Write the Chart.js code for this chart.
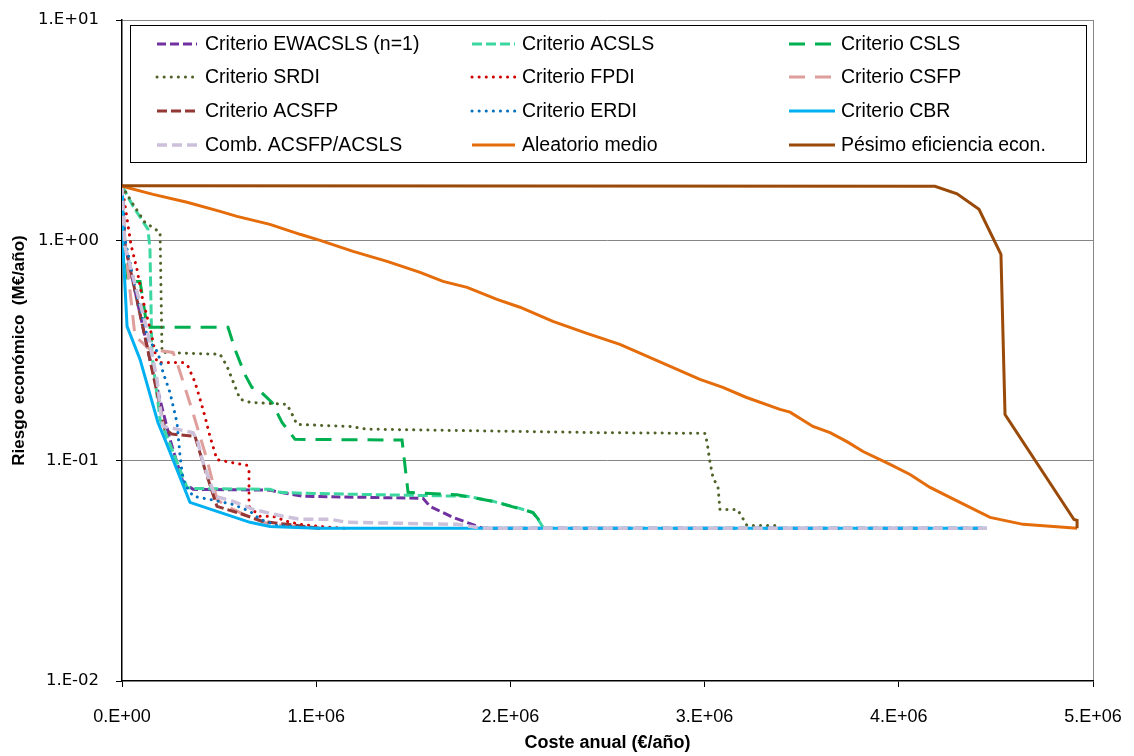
<!DOCTYPE html>
<html>
<head>
<meta charset="utf-8">
<script src="https://cdn.jsdelivr.net/npm/chart.js@4.4.1/dist/chart.umd.min.js"></script>
<style>
  html, body { margin: 0; padding: 0; background: #fff; }
  #wrap { width: 1134px; height: 756px; }
</style>
</head>
<body>
<div id="wrap"><canvas id="chart" width="1134" height="756"></canvas></div>
<script>
// Ejes
const xTicks = [0, 1e6, 2e6, 3e6, 4e6, 5e6];
const xTickLabels = ['0.E+00', '1.E+06', '2.E+06', '3.E+06', '4.E+06', '5.E+06'];
const yTicks = [0.01, 0.1, 1, 10];
const yTickLabels = ['1.E-02', '1.E-01', '1.E+00', '1.E+01'];

// Coste anual (€/año) y riesgo económico (M€/año) de cada serie
const ewacslsX = [0, 0.015e6, 0.144e6, 0.247e6, 0.314e6, 0.366e6, 0.762e6, 0.814e6, 0.932e6, 1.550e6, 1.586e6, 1.704e6, 1.859e6, 4.45e6];
const ewacslsY = [1.77, 0.96, 0.288, 0.125, 0.0797, 0.0741, 0.0735, 0.0718, 0.0689, 0.0675, 0.0620, 0.0553, 0.0493, 0.0493];

const acslsX = [0, 0.057e6, 0.134e6, 0.144e6, 0.154e6, 0.196e6, 0.335e6, 0.366e6, 0.762e6, 0.814e6, 0.932e6, 1.777e6, 1.910e6, 2.013e6, 2.116e6, 2.142e6, 2.168e6];
const acslsY = [1.77, 1.427, 1.122, 0.91, 0.304, 0.154, 0.0756, 0.0748, 0.0741, 0.0718, 0.0711, 0.0689, 0.0654, 0.0620, 0.0582, 0.0542, 0.0498];

const cslsX = [0, 0.010e6, 0.031e6, 0.093e6, 0.129e6, 0.546e6, 0.582e6, 0.633e6, 0.669e6, 0.700e6, 0.772e6, 0.824e6, 0.891e6, 1.442e6, 1.473e6, 1.725e6, 1.910e6, 2.116e6, 2.178e6];
const cslsY = [1.77, 0.959, 0.651, 0.651, 0.403, 0.403, 0.320, 0.246, 0.215, 0.211, 0.184, 0.149, 0.125, 0.124, 0.0718, 0.0700, 0.0654, 0.0582, 0.0498];

const srdiX = [0, 0.057e6, 0.118e6, 0.196e6, 0.206e6, 0.505e6, 0.541e6, 0.582e6, 0.608e6, 0.659e6, 0.850e6, 0.881e6, 0.901e6, 1.174e6, 1.262e6, 2.461e6, 3.002e6, 3.012e6, 3.028e6, 3.043e6, 3.069e6, 3.079e6, 3.167e6, 3.182e6, 3.218e6, 3.373e6];
const srdiY = [1.77, 1.457, 1.207, 1.087, 0.310, 0.304, 0.268, 0.217, 0.190, 0.184, 0.180, 0.159, 0.146, 0.143, 0.139, 0.134, 0.133, 0.122, 0.0983, 0.0840, 0.0756, 0.0601, 0.0601, 0.0576, 0.0508, 0.0508];

const fpdiX = [0, 0.046e6, 0.077e6, 0.103e6, 0.154e6, 0.180e6, 0.314e6, 0.340e6, 0.376e6, 0.402e6, 0.427e6, 0.453e6, 0.489e6, 0.644e6, 0.654e6, 0.654e6, 0.711e6, 0.778e6, 0.850e6, 0.917e6, 1.020e6, 1.148e6];
const fpdiY = [1.77, 0.959, 0.739, 0.557, 0.367, 0.279, 0.279, 0.268, 0.227, 0.190, 0.159, 0.129, 0.101, 0.0952, 0.0913, 0.0620, 0.0559, 0.0559, 0.0530, 0.0514, 0.0503, 0.0493];

const csfpX = [0, 0.015e6, 0.067e6, 0.144e6, 0.263e6, 0.283e6, 0.360e6, 0.438e6, 0.489e6, 0.541e6, 0.659e6, 0.762e6, 1.020e6];
const csfpY = [1.77, 0.959, 0.367, 0.320, 0.310, 0.279, 0.171, 0.101, 0.0667, 0.0620, 0.0553, 0.0514, 0.0493];

const acsfpX = [0, 0.015e6, 0.221e6, 0.257e6, 0.376e6, 0.427e6, 0.489e6, 0.592e6, 0.726e6, 0.850e6, 1.020e6];
const acsfpY = [1.77, 0.959, 0.139, 0.132, 0.129, 0.0913, 0.0620, 0.0582, 0.0530, 0.0514, 0.0493];

const erdiX = [0, 0.015e6, 0.041e6, 0.077e6, 0.134e6, 0.185e6, 0.211e6, 0.247e6, 0.283e6, 0.299e6, 0.314e6, 0.335e6, 0.366e6, 0.453e6, 0.572e6, 0.659e6, 0.711e6, 0.798e6, 0.881e6, 1.020e6];
const erdiY = [1.77, 1.01, 0.795, 0.557, 0.356, 0.310, 0.252, 0.204, 0.149, 0.1046, 0.0823, 0.0756, 0.0689, 0.0667, 0.0633, 0.0589, 0.0542, 0.0508, 0.0503, 0.0493];

const cbrX = [0, 0.003e6, 0.026e6, 0.093e6, 0.185e6, 0.221e6, 0.350e6, 0.489e6, 0.659e6, 0.762e6, 1.004e6, 4.454e6];
const cbrY = [1.77, 1.01, 0.407, 0.288, 0.149, 0.125, 0.0647, 0.0589, 0.0525, 0.0503, 0.0493, 0.0493];

const combX = [0, 0.015e6, 0.129e6, 0.180e6, 0.196e6, 0.211e6, 0.283e6, 0.366e6, 0.391e6, 0.417e6, 0.443e6, 0.479e6, 0.572e6, 0.675e6, 0.829e6, 0.917e6, 1.071e6, 1.159e6, 1.725e6, 1.859e6, 4.454e6];
const combY = [1.77, 0.939, 0.394, 0.234, 0.176, 0.143, 0.139, 0.134, 0.121, 0.0983, 0.0849, 0.0689, 0.0654, 0.0601, 0.0559, 0.0542, 0.0542, 0.0525, 0.0514, 0.0493, 0.0493];

const aleatorioX = [0, 0.160e6, 0.335e6, 0.505e6, 0.592e6, 0.762e6, 0.917e6, 1.020e6, 1.190e6, 1.365e6, 1.535e6, 1.653e6, 1.777e6, 1.931e6, 2.049e6, 2.219e6, 2.394e6, 2.564e6, 2.976e6, 3.094e6, 3.213e6, 3.388e6, 3.440e6, 3.558e6, 3.646e6, 3.733e6, 3.816e6, 3.955e6, 4.058e6, 4.161e6, 4.315e6, 4.470e6, 4.640e6, 4.918e6];
const aleatorioY = [1.76, 1.617, 1.488, 1.354, 1.285, 1.182, 1.065, 1.000, 0.891, 0.803, 0.716, 0.651, 0.612, 0.540, 0.497, 0.429, 0.378, 0.337, 0.234, 0.215, 0.194, 0.171, 0.166, 0.143, 0.134, 0.122, 0.110, 0.0962, 0.0866, 0.0756, 0.0647, 0.0553, 0.0514, 0.0493];

const pesimoX = [0, 4.186e6, 4.300e6, 4.413e6, 4.526e6, 4.547e6, 4.902e6, 4.918e6, 4.918e6];
const pesimoY = [1.77, 1.76, 1.626, 1.382, 0.864, 0.162, 0.0541, 0.0536, 0.0493];

function pts(xs, ys) {
    return xs.map((x, i) => ({ x: x, y: ys[i] }));
}

const DOT = [0.1, 7];
const series = [
    { label: 'Criterio EWACSLS (n=1)', data: pts(ewacslsX, ewacslsY), borderColor: '#7030A0', borderDash: [9, 4] },
    { label: 'Criterio ACSLS', data: pts(acslsX, acslsY), borderColor: '#3CD6A0', borderDash: [10, 4] },
    { label: 'Criterio CSLS', data: pts(cslsX, cslsY), borderColor: '#00B050', borderDash: [16, 10] },
    { label: 'Criterio SRDI', data: pts(srdiX, srdiY), borderColor: '#4F6228', borderDash: DOT, borderCapStyle: 'round' },
    { label: 'Criterio FPDI', data: pts(fpdiX, fpdiY), borderColor: '#D00000', borderDash: DOT, borderCapStyle: 'round' },
    { label: 'Criterio CSFP', data: pts(csfpX, csfpY), borderColor: '#DE9E9B', borderDash: [16, 10] },
    { label: 'Criterio ACSFP', data: pts(acsfpX, acsfpY), borderColor: '#953735', borderDash: [10, 4] },
    { label: 'Criterio ERDI', data: pts(erdiX, erdiY), borderColor: '#0070C0', borderDash: DOT, borderCapStyle: 'round' },
    { label: 'Criterio CBR', data: pts(cbrX, cbrY), borderColor: '#00B0F0' },
    { label: 'Comb. ACSFP/ACSLS', data: pts(combX, combY), borderColor: '#CCC0DA', borderDash: [10, 5], borderWidth: 3.5 },
    { label: 'Aleatorio medio', data: pts(aleatorioX, aleatorioY), borderColor: '#E46C0A' },
    { label: 'Pésimo eficiencia econ.', data: pts(pesimoX, pesimoY), borderColor: '#9A4A08' }
];

// Excel pinta la última serie encima
series.forEach((s, i) => {
    s.order = series.length - 1 - i;
    s.borderWidth = s.borderWidth || 3;
    s.fill = false;
});

const FONT_TXT = '"Liberation Sans", Arial, sans-serif';

// Leyenda en rejilla de 3 columnas con marco
const gridLegend = {
    id: 'gridLegend',
    afterDraw(chart) {
        const ctx = chart.ctx;
        const box = { left: 130, top: 25, right: 1086, bottom: 162 };
        const cols = [{ a: 157, b: 197, t: 205 }, { a: 472, b: 515, t: 522 }, { a: 789, b: 835, t: 841 }];
        const rows = [44, 77, 111, 145];
        ctx.save();
        ctx.fillStyle = '#fff';
        ctx.fillRect(box.left, box.top, box.right - box.left, box.bottom - box.top);
        ctx.strokeStyle = '#000';
        ctx.lineWidth = 1;
        ctx.strokeRect(box.left + 0.5, box.top + 0.5, box.right - box.left, box.bottom - box.top);
        chart.data.datasets.forEach((ds, i) => {
            const c = cols[i % 3];
            const y = rows[Math.floor(i / 3)];
            ctx.beginPath();
            ctx.setLineDash(ds.borderDash || []);
            ctx.lineCap = ds.borderCapStyle || 'butt';
            ctx.lineWidth = ds.borderWidth;
            ctx.strokeStyle = ds.borderColor;
            ctx.moveTo(c.a, y);
            ctx.lineTo(c.b, y);
            ctx.stroke();
            ctx.setLineDash([]);
            ctx.fillStyle = '#000';
            ctx.font = '19.5px ' + FONT_TXT;
            ctx.textBaseline = 'middle';
            ctx.textAlign = 'left';
            ctx.fillText(ds.label, c.t, y + 1);
        });
        ctx.restore();
    }
};

const ctx = document.getElementById('chart').getContext('2d');
new Chart(ctx, {
    type: 'line',
    data: { datasets: series },
    options: {
        responsive: false,
        animation: false,
        devicePixelRatio: 1,
        layout: { padding: { top: 20, right: 41, left: 0, bottom: 0 } },
        elements: { point: { radius: 0 }, line: { tension: 0 } },
        plugins: { legend: { display: false }, tooltip: { enabled: false } },
        scales: {
            x: {
                type: 'linear',
                min: 0,
                max: 5e6,
                afterBuildTicks: (s) => { s.ticks = xTicks.map(v => ({ value: v })); },
                afterFit: (s) => {
                    s.height = 75;
                    s.paddingLeft = 0;
                    s.paddingRight = 0;
                },
                ticks: {
                    padding: 19,
                    color: '#000',
                    font: { family: FONT_TXT, size: 18 },
                    maxRotation: 0,
                    callback: (v) => xTickLabels[xTicks.indexOf(v)]
                },
                grid: {
                    color: (c) => (c.tick && c.tick.value === 5e6) ? '#868686' : 'rgba(0,0,0,0)',
                    tickColor: '#000',
                    tickLength: 6,
                    lineWidth: 1
                },
                border: { color: '#000', width: 1.5 },
                title: {
                    display: true,
                    text: 'Coste anual (€/año)',
                    color: '#000',
                    font: { family: FONT_TXT, size: 18, weight: 'bold' },
                    padding: { top: 0, bottom: 2 }
                }
            },
            y: {
                type: 'logarithmic',
                min: 0.01,
                max: 10,
                afterBuildTicks: (s) => { s.ticks = yTicks.map(v => ({ value: v })); },
                afterFit: (s) => {
                    s.width = 122;
                    s.paddingTop = 0;
                    s.paddingBottom = 0;
                },
                ticks: {
                    padding: 17,
                    color: '#000',
                    font: { family: '"DejaVu Sans", Verdana, sans-serif', size: 16.5 },
                    callback: (v) => yTickLabels[yTicks.indexOf(v)]
                },
                grid: {
                    color: (c) => (c.tick && c.tick.value > 0.05) ? '#868686' : 'rgba(0,0,0,0)',
                    tickColor: '#000',
                    tickLength: 6,
                    lineWidth: 1
                },
                border: { color: '#000', width: 1.5 },
                title: {
                    display: true,
                    text: 'Riesgo económico  (M€/año)',
                    color: '#000',
                    font: { family: FONT_TXT, size: 17, weight: 'bold' },
                    padding: { top: 9, bottom: 0 }
                }
            }
        }
    },
    plugins: [gridLegend]
});
</script>
</body>
</html>
